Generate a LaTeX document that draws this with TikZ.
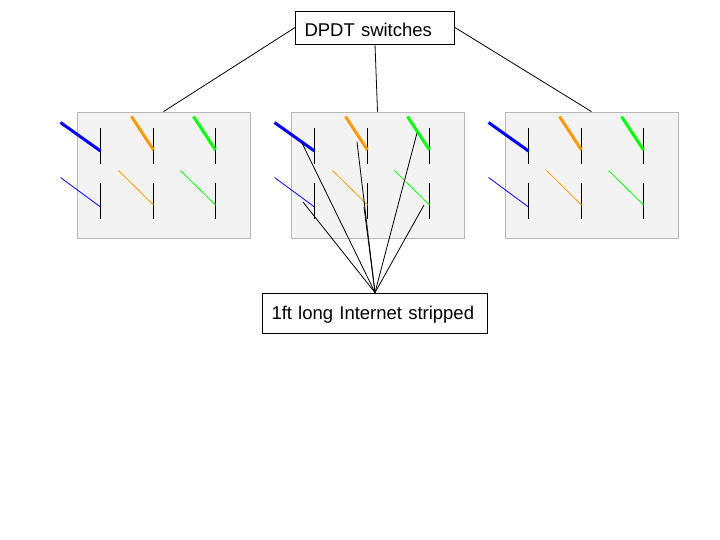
\documentclass[tikz,border=0pt]{standalone}
\usepackage{fontspec}
\setmainfont[WordSpace=0.8]{Liberation Sans}
\definecolor{wireorange}{HTML}{FF9900}
\definecolor{panelgray}{HTML}{F3F3F3}
\definecolor{panelline}{HTML}{B7B7B7}
\tikzset{
  panel/.style={draw=panelline,fill=panelgray,line width=0.8pt,minimum width=173pt,minimum height=126pt,inner sep=0pt},
  label box/.style={draw=black,fill=white,line width=0.8pt,align=left,inner ysep=0pt,inner xsep=9pt,
    font=\fontsize{18.5}{22}\selectfont},
  contact/.style={line width=1pt,black},
  wire thick/.style={line width=3pt},
  wire thin/.style={line width=0.8pt},
}
\begin{document}
\begin{tikzpicture}[x=1pt,y=-1pt]
  \useasboundingbox (0,0) rectangle (720,540);

  % the three boards with their switches
  \foreach \n/\dx in {1/0,2/214,3/428} {
    \begin{scope}[xshift=\dx pt]
      \node[panel] (panel\n) at (163.5,175) {};
      \foreach \k/\cx/\col/\upx/\lowx in {1/100.5/blue/60.5/60.5,2/153.5/wireorange/131.5/118.5,3/215.5/green/193.5/180.5} {
        \draw[contact] (\cx,128) -- (\cx,164);
        \draw[contact] (\cx,183) -- (\cx,219);
        \draw[wire thick,\col] (\upx,{\k==1 ? 122.5 : 116.5}) -- (\cx,{\k==1 ? 151 : 150});
        \draw[wire thin,\col] (\lowx,{\k==1 ? 177.5 : 170.5}) -- (\cx,{\k==1 ? 207 : 205});
      }
    \end{scope}
  }

  \node[label box,minimum width=159pt,minimum height=33pt,text width=141pt,text height=19pt,text depth=1pt] (dpdt) at (375,27.5) {DPDT switches};
  \node[label box,minimum width=225pt,minimum height=40pt,text width=207pt,text height=17pt,text depth=5pt] (strip) at (375,313) {1ft long Internet stripped};

  % top box to each board
  \draw[line width=0.8pt] (dpdt.west) -- (panel1.north);
  \draw[line width=0.8pt] (dpdt.south) -- (panel2.north);
  \draw[line width=0.8pt] (dpdt.east) -- (panel3.north);

  % strands into the middle board
  \coordinate (s1) at (302,143);
  \coordinate (s2) at (357,142);
  \coordinate (s3) at (417,133);
  \coordinate (s4) at (303,202);
  \coordinate (s5) at (364,207);
  \coordinate (s6) at (424,205);
  \foreach \s in {1,...,6} {
    \draw[line width=0.8pt] (strip.north) -- (s\s);
  }
\end{tikzpicture}
\end{document}
